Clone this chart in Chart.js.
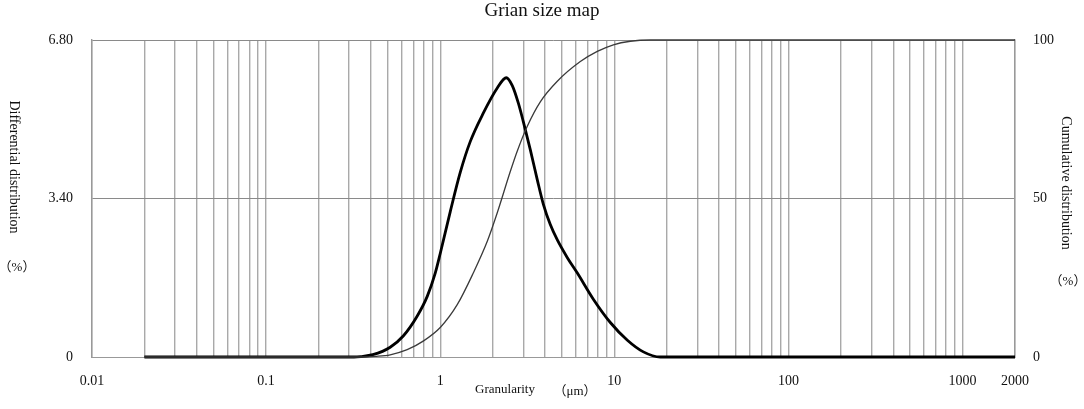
<!DOCTYPE html>
<html>
<head>
<meta charset="utf-8">
<script src="https://cdn.jsdelivr.net/npm/chart.js@4.4.0/dist/chart.umd.min.js"></script>
<style>
html,body{margin:0;padding:0;background:#fff;}
#wrap{width:1084px;height:409px;position:relative;}
</style>
</head>
<body>
<div id="wrap"><canvas id="c"></canvas></div>
<script>
// ---- data ----
const diffX = [0.02, 0.32, 0.35, 0.41, 0.516, 0.613, 0.738, 0.842, 0.936, 1.0, 1.142, 1.303, 1.487, 1.767, 2.126, 2.395, 2.593, 2.807, 3.0, 3.29, 3.61, 3.908, 4.287, 4.704, 5.37, 6.13, 7.573, 9.48, 11.88, 14.68, 18.38, 2000];
const diffY = [0, 0, 0.01, 0.05, 0.21, 0.45, 0.88, 1.30, 1.80, 2.22, 3.12, 3.96, 4.62, 5.23, 5.77, 5.99, 5.82, 5.45, 5.05, 4.45, 3.80, 3.28, 2.84, 2.51, 2.13, 1.80, 1.24, 0.74, 0.36, 0.11, 0, 0];
const cumX = [0.02, 0.36, 0.423, 0.516, 0.646, 0.798, 1.0, 1.252, 1.548, 1.863, 2.126, 2.525, 2.771, 3.162, 3.756, 4.704, 6.376, 7.98, 9.87, 12.36, 16.1, 2000];
const cumY = [0, 0, 0.2, 0.7, 2.3, 5.0, 9.3, 16.5, 26.5, 36.5, 45.5, 58.5, 65.0, 72.8, 80.5, 87.0, 93.2, 96.4, 98.5, 99.6, 100, 100];
const xGridValues = [0.01, 0.02, 0.03, 0.04, 0.05, 0.06, 0.07, 0.08, 0.09,
  0.1, 0.2, 0.3, 0.4, 0.5, 0.6, 0.7, 0.8, 0.9,
  1, 2, 3, 4, 5, 6, 7, 8, 9,
  10, 20, 30, 40, 50, 60, 70, 80, 90,
  100, 200, 300, 400, 500, 600, 700, 800, 900,
  1000, 2000];
const xLabelValues = [0.01, 0.1, 1, 10, 100, 1000, 2000];
const xLabelTexts = ['0.01', '0.1', '1', '10', '100', '1000', '2000'];
const yLeftValues = [0, 3.4, 6.8];
const yLeftLabels = ['0', '3.40', '6.80'];
const yRightValues = [0, 50, 100];
const yRightLabels = ['0', '50', '100'];
const titleText = 'Grian size map';
const leftTitle = 'Differential distribution';
const rightTitle = 'Cumulative distribution';
const unitPct = '（%）';
const xTitle = 'Granularity';
const xUnit = '（μm）';

const SERIF = "'Liberation Serif', 'Times New Roman', 'Noto Sans CJK SC', serif";

const textPlugin = {
  id: 'texts',
  afterDraw(chart) {
    const ctx = chart.ctx;
    ctx.save();
    ctx.fillStyle = '#111';
    ctx.textBaseline = 'middle';
    ctx.textAlign = 'center';
    ctx.font = '19px ' + SERIF;
    ctx.fillText(titleText, 542, 11);
    ctx.font = '14px ' + SERIF;
    ctx.save();
    ctx.translate(14, 167);
    ctx.rotate(Math.PI / 2);
    ctx.fillText(leftTitle, 0, 0);
    ctx.restore();
    ctx.save();
    ctx.translate(1066, 183);
    ctx.rotate(Math.PI / 2);
    ctx.fillText(rightTitle, 0, 0);
    ctx.restore();
    ctx.font = '13px ' + SERIF;
    ctx.fillText(unitPct, 17, 268);
    ctx.fillText(unitPct, 1068, 282);
    ctx.fillText(xTitle, 505, 390);
    ctx.fillText(xUnit, 575, 392);
    ctx.restore();
  }
};

const ctx = document.getElementById('c').getContext('2d');
new Chart(ctx, {
  type: 'line',
  data: {
    datasets: [
      {
        label: 'Cumulative',
        data: cumX.map((x, i) => ({x: x, y: cumY[i]})),
        yAxisID: 'y1',
        borderColor: '#3a3a3a',
        borderWidth: 1.3,
        pointRadius: 0,
        cubicInterpolationMode: 'monotone',
        clip: false,
        fill: false
      },
      {
        label: 'Differential',
        data: diffX.map((x, i) => ({x: x, y: diffY[i]})),
        yAxisID: 'y',
        borderColor: '#000',
        borderWidth: 2.8,
        pointRadius: 0,
        cubicInterpolationMode: 'monotone',
        clip: false,
        fill: false
      }
    ]
  },
  options: {
    responsive: true,
    maintainAspectRatio: false,
    animation: false,
    events: [],
    layout: {padding: {top: 40, left: 0, right: 0, bottom: 0}},
    plugins: {legend: {display: false}, tooltip: {enabled: false}, title: {display: false}},
    scales: {
      x: {
        type: 'logarithmic',
        min: 0.01,
        max: 2000,
        afterBuildTicks(scale) { scale.ticks = xGridValues.map(v => ({value: v})); },
        afterFit(scale) { scale.height = 52; },
        grid: {color: '#a9a9a9', lineWidth: 1.4, drawTicks: false},
        border: {display: true, color: '#999', width: 1},
        ticks: {
          autoSkip: false, maxRotation: 0, minRotation: 0, padding: 16,
          color: '#111', font: {family: SERIF, size: 14},
          callback(v) { const i = xLabelValues.indexOf(v); return i >= 0 ? xLabelTexts[i] : ''; }
        }
      },
      y: {
        position: 'left',
        min: 0, max: 6.8,
        afterBuildTicks(scale) { scale.ticks = yLeftValues.map(v => ({value: v})); },
        afterFit(scale) { scale.width = 92; },
        grid: {color: '#8a8a8a', lineWidth: 1, drawTicks: false},
        border: {display: true, color: '#999', width: 1.4},
        ticks: {
          padding: 19, color: '#111', font: {family: SERIF, size: 14},
          callback(v) { const i = yLeftValues.indexOf(v); return i >= 0 ? yLeftLabels[i] : ''; }
        }
      },
      y1: {
        position: 'right',
        min: 0, max: 100,
        afterBuildTicks(scale) { scale.ticks = yRightValues.map(v => ({value: v})); },
        afterFit(scale) { scale.width = 69; },
        grid: {display: false, drawTicks: false},
        border: {display: true, color: '#999', width: 1.4},
        ticks: {
          padding: 18, color: '#111', font: {family: SERIF, size: 14},
          callback(v) { const i = yRightValues.indexOf(v); return i >= 0 ? yRightLabels[i] : ''; }
        }
      }
    }
  },
  plugins: [textPlugin]
});
</script>
</body>
</html>
